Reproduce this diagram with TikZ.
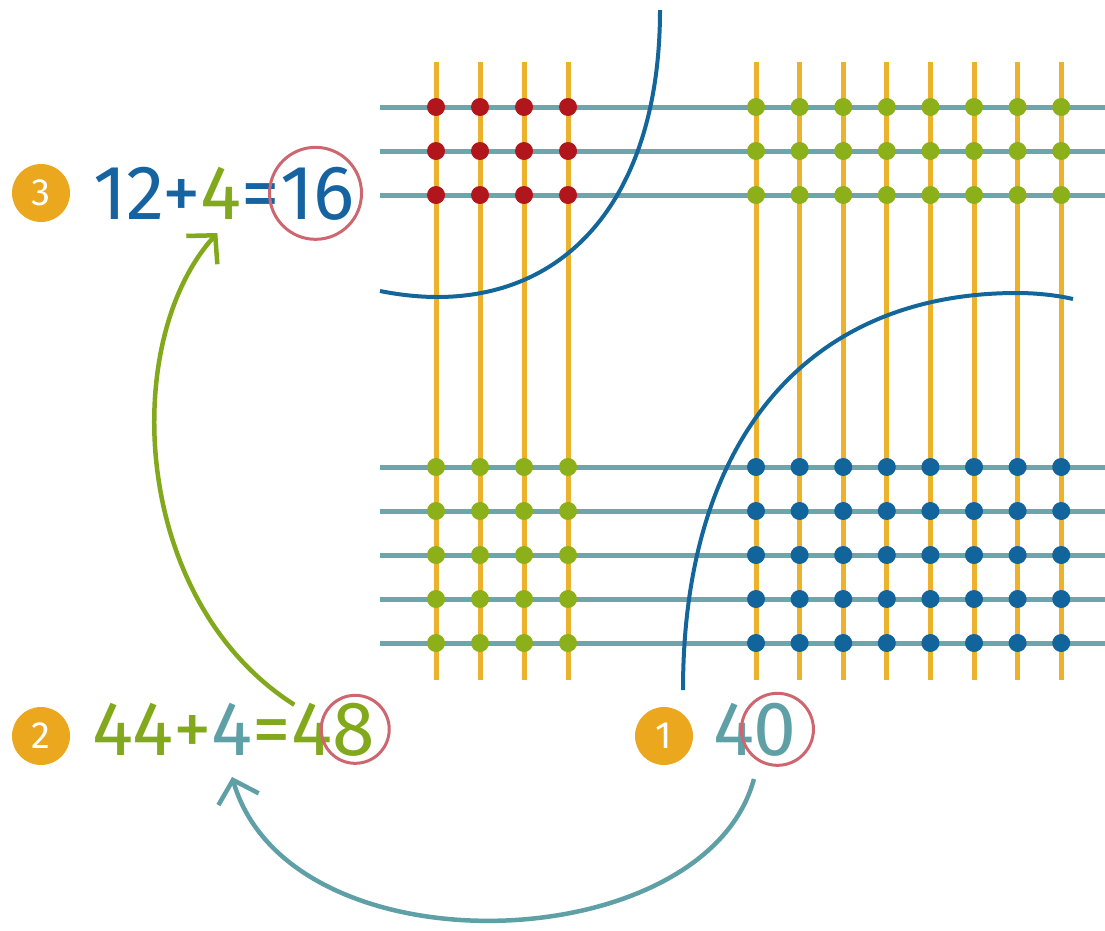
\documentclass[tikz,border=0pt]{standalone}
\usepackage{fontspec}
\setmainfont{Fira Sans}
\usetikzlibrary{arrows.meta}
\definecolor{gold}{HTML}{EDB22B}
\definecolor{tealline}{HTML}{6AA6AA}
\definecolor{reddot}{HTML}{B0161B}
\definecolor{greendot}{HTML}{8CB01A}
\definecolor{bluedot}{HTML}{11659C}
\definecolor{bluecurve}{HTML}{13669A}
\definecolor{ringred}{HTML}{CE6670}
\definecolor{badgecol}{HTML}{EBA81E}
\definecolor{blueT}{HTML}{1563A0}
\definecolor{greenT}{HTML}{82A81C}
\definecolor{tealT}{HTML}{5FA0A6}
\begin{document}
\begin{tikzpicture}[x=1pt,y=-1pt,
  vline/.style={gold, line width=5pt},
  hline/.style={tealline, line width=5pt},
  curveline/.style={bluecurve, line width=4pt},
  badge/.style={circle, fill=badgecol, minimum size=58pt, inner sep=0pt, text=white, font=\fontsize{38}{38}\selectfont},
  eq/.style={inner sep=0pt, outer sep=0pt, font=\fontsize{77}{77}\selectfont},
  ring/.style={circle, draw=ringred, line width=3pt, inner sep=0pt},
  arrowline/.style={line width=4.5pt, -{Straight Barb[length=20pt, width=42pt]}}
]
\fill[white] (0,0) rectangle (1105,930);
\useasboundingbox (0,0) rectangle (1105,930);
% grid
\foreach \x in {436,480,524,568} \draw[vline] (\x,62) -- (\x,680);
\foreach \i in {0,...,7} \draw[vline] ({756+43.6*\i},62) -- ({756+43.6*\i},680);
\foreach \y in {107,151,195,467,511,555,599,643} \draw[hline] (380,\y) -- (1105,\y);
\foreach \x in {436,480,524,568} \foreach \y in {107,151,195} \fill[reddot] (\x,\y) circle[radius=9pt];
\foreach \i in {0,...,7} \foreach \y in {107,151,195} \fill[greendot] ({756+43.6*\i},\y) circle[radius=9pt];
\foreach \x in {436,480,524,568} \foreach \y in {467,511,555,599,643} \fill[greendot] (\x,\y) circle[radius=9pt];
\foreach \i in {0,...,7} \foreach \y in {467,511,555,599,643} \fill[bluedot] ({756+43.6*\i},\y) circle[radius=9pt];
% blue curves
\draw[curveline] (380,291) .. controls (400,295) and (420,297) .. (437,297)
  .. controls (575,297) and (660,188) .. (660,10);
\draw[curveline] (683,690) .. controls (683,440) and (807,293) .. (1017,293)
  .. controls (1040,293) and (1060,296) .. (1073,299);
% equation 3
\node[badge] (b3) at (41,193) {3};
\node[eq, anchor=base west, text=blueT] (e3a) at (93,219) {12+};
\node[eq, anchor=base west, text=greenT] (e3b) at (e3a.base east) {4};
\node[eq, anchor=base west, text=blueT] (e3c) at (e3b.base east) {=};
\node[eq, anchor=base west, text=blueT] (e3d) at (e3c.base east) {16};
\node[ring, minimum size=92pt] (r3) at ([xshift=-2pt]e3d.center) {};
% equation 2
\node[badge] (b2) at (41,736) {2};
\node[eq, anchor=base west, text=greenT] (e2a) at (92,755) {44+};
\node[eq, anchor=base west, text=tealT] (e2b) at (e2a.base east) {4};
\node[eq, anchor=base west, text=greenT] (e2c) at (e2b.base east) {=4};
\node[eq, anchor=base west, text=greenT] (e2d) at (e2c.base east) {8};
\node[ring, minimum size=68pt] (r2) at ([xshift=2pt]e2d.center) {};
% equation 1
\node[badge] (b1) at (664,736) {1};
\node[eq, anchor=base west, text=tealT] (e1a) at (713,755) {4};
\node[eq, anchor=base west, text=tealT] (e1b) at (e1a.base east) {0};
\node[ring, minimum size=72pt] (r1) at ([xshift=2pt]e1b.center) {};
% connectors
\coordinate (g1) at ([xshift=2pt,yshift=-2pt]e2c.north);
\coordinate (g2) at ([xshift=-4pt,yshift=-14pt]e3b.south);
\draw[arrowline, greenT] (g1) .. controls (130,600) and (120,340) .. (g2);
\coordinate (t1) at ([yshift=-24pt]e1a.south east);
\coordinate (t2) at ([yshift=-22pt]e2b.south);
\draw[arrowline, tealT] (t1) .. controls (705,960) and (290,975) .. (t2);
\end{tikzpicture}
\end{document}
